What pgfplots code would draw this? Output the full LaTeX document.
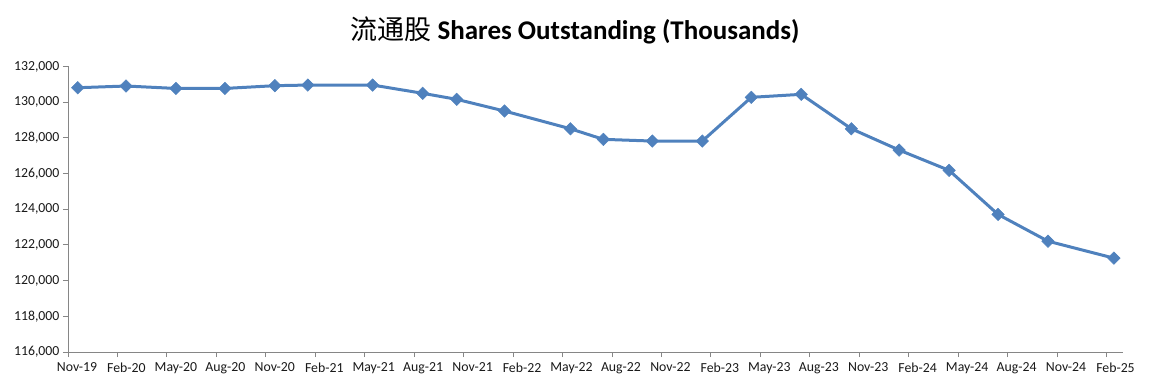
\documentclass[border=0pt]{standalone}
\usepackage{fontspec}
\setmainfont{Carlito}
\newfontfamily\cjk{Noto Sans CJK SC}
\usepackage{pgfplots}
\pgfplotsset{compat=1.18}
\definecolor{linblue}{HTML}{4F81BD}
\definecolor{axgray}{HTML}{868686}
\begin{document}
\begin{tikzpicture}
\useasboundingbox (-68pt,-39pt) rectangle (1081pt,352pt);
\begin{axis}[
  at={(0,0)}, anchor=south west,
  scale only axis, width=1055pt, height=285.5pt,
  xmin=0, xmax=64, ymin=116000, ymax=132000,
  axis x line*=bottom, axis y line*=left,
  axis line style={axgray, line width=0.9pt, -},
  tick style={axgray, line width=0.9pt},
  tick align=outside, major tick length=5pt,
  xtick={0,3,...,63},
  xticklabels={Nov-19,Feb-20,May-20,Aug-20,Nov-20,Feb-21,May-21,Aug-21,Nov-21,Feb-22,May-22,Aug-22,Nov-22,Feb-23,May-23,Aug-23,Nov-23,Feb-24,May-24,Aug-24,Nov-24,Feb-25},
  ytick={116000,118000,...,132000},
  scaled y ticks=false,
  /pgf/number format/assume math mode=true,
  yticklabel style={/pgf/number format/.cd, fixed, 1000 sep={,}},
  ticklabel style={font=\fontsize{13.8}{16}\selectfont, text=black!90},
  xticklabel style={yshift=-2pt, xshift=9pt},
  clip=false,
]
\addplot[linblue, line width=3pt, mark=square*, mark size=4.4pt, mark options={rotate=45, line width=0.5pt}] coordinates {
(0.59,130810) (3.52,130906) (6.55,130770) (9.52,130770) (12.55,130925) (14.55,130960) (18.48,130960)
(21.52,130497) (23.58,130160) (26.48,129505) (30.48,128510) (32.48,127917) (35.45,127822) (38.48,127822)
(41.45,130272) (44.48,130440) (47.52,128510) (50.42,127317) (53.45,126180) (56.42,123710) (59.45,122210) (63.45,121260)
};
\end{axis}
\node[font=\fontsize{27}{30}\selectfont] at (507pt,322pt) {{\cjk 流通股} \textbf{Shares Outstanding (Thousands)}};
\end{tikzpicture}
\end{document}
